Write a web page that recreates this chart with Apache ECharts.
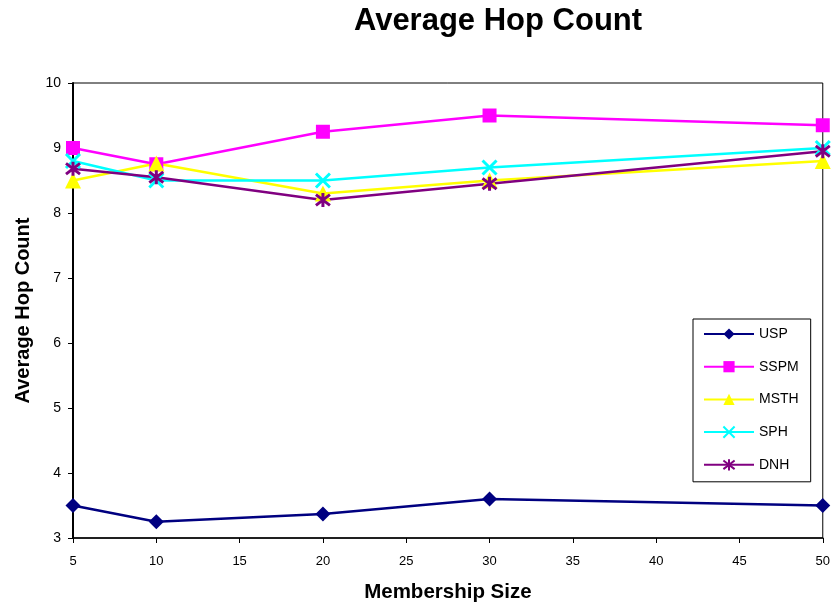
<!DOCTYPE html>
<html>
<head>
<meta charset="utf-8">
<script src="https://cdn.jsdelivr.net/npm/echarts@6/dist/echarts.min.js"></script>
<style>
  html, body { margin: 0; padding: 0; background: #fff; }
  #chart { width: 833px; height: 608px; }
</style>
</head>
<body>
<div id="chart"></div>
<script>
// Membership sizes along the x axis
const membershipSizes = [5, 10, 20, 30, 50];

// Average hop count per algorithm
const usp  = [3.5, 3.25, 3.37, 3.6, 3.5];
const sspm = [9.0, 8.75, 9.25, 9.5, 9.35];
const msth = [8.5, 8.76, 8.3, 8.5, 8.8];
const sph  = [8.8, 8.5, 8.5, 8.7, 9.0];
const dnh  = [8.68, 8.55, 8.2, 8.45, 8.95];

const seriesNames = ['USP', 'SSPM', 'MSTH', 'SPH', 'DNH'];

// Outline-only marker shapes, drawn by stroking the path
const crossPath = 'path://M0,0 L10,10 M10,0 L0,10';
const starPath = 'path://M0,0 L10,10 M10,0 L0,10 M5,-1.5 L5,11.5';

function pairs(values) {
  return membershipSizes.map((x, i) => [x, values[i]]);
}

const font = 'Liberation Sans, Arial, sans-serif';

function lineSeries(name, values, color, symbol, size, stroked) {
  return {
    name: name,
    type: 'line',
    data: pairs(values),
    symbol: symbol,
    symbolSize: size,
    showAllSymbol: true,
    lineStyle: { color: color, width: 2.5 },
    itemStyle: stroked
      ? { color: 'rgba(0,0,0,0)', borderColor: color, borderWidth: 3 }
      : { color: color, borderWidth: 0 },
    emphasis: { disabled: true },
    animation: false
  };
}

const chart = echarts.init(document.getElementById('chart'), null, { renderer: 'canvas' });

chart.setOption({
  backgroundColor: '#ffffff',
  animation: false,
  title: {
    text: 'Average Hop Count',
    left: 493,
    textAlign: 'center',
    top: 1,
    textStyle: { fontFamily: font, fontSize: 31, fontWeight: 'bold', color: '#000' }
  },
  grid: {
    left: 73,
    right: 10,
    top: 83,
    bottom: 70,
    show: true,
    borderColor: '#000',
    borderWidth: 1,
    backgroundColor: '#fff'
  },
  legend: {
    orient: 'vertical',
    left: 693,
    top: 319,
    width: 117,
    padding: [8, 12, 10, 10],
    itemWidth: 50,
    itemHeight: 14,
    itemGap: 18.7,
    backgroundColor: '#fff',
    borderColor: '#000',
    borderWidth: 1,
    data: seriesNames,
    textStyle: { fontFamily: font, fontSize: 14, color: '#000' }
  },
  xAxis: {
    type: 'value',
    min: 5,
    max: 50,
    interval: 5,
    name: 'Membership Size',
    nameLocation: 'middle',
    nameGap: 44,
    nameTextStyle: { fontFamily: font, fontSize: 20.5, fontWeight: 'bold', color: '#000' },
    axisLine: { show: true, onZero: false, lineStyle: { color: '#000', width: 1.5 } },
    axisTick: { show: true, inside: false, length: 5, lineStyle: { color: '#000' } },
    axisLabel: { fontFamily: font, fontSize: 13, color: '#000', margin: 17 },
    splitLine: { show: false }
  },
  yAxis: {
    type: 'value',
    min: 3,
    max: 10,
    interval: 1,
    name: 'Average Hop Count',
    nameLocation: 'middle',
    nameRotate: 90,
    nameGap: 40,
    nameTextStyle: { fontFamily: font, fontSize: 20, fontWeight: 'bold', color: '#000' },
    axisLine: { show: true, lineStyle: { color: '#000', width: 2 } },
    axisTick: { show: true, inside: false, length: 5, lineStyle: { color: '#000' } },
    axisLabel: { fontFamily: font, fontSize: 14, color: '#000', margin: 12 },
    splitLine: { show: false }
  },
  series: [
    lineSeries('USP', usp, '#000080', 'diamond', 15, false),
    lineSeries('SSPM', sspm, '#FF00FF', 'rect', 14, false),
    lineSeries('MSTH', msth, '#FFFF00', 'triangle', 16, false),
    lineSeries('SPH', sph, '#00FFFF', crossPath, 14, true),
    lineSeries('DNH', dnh, '#800080', starPath, 14, true)
  ]
});
</script>
</body>
</html>
